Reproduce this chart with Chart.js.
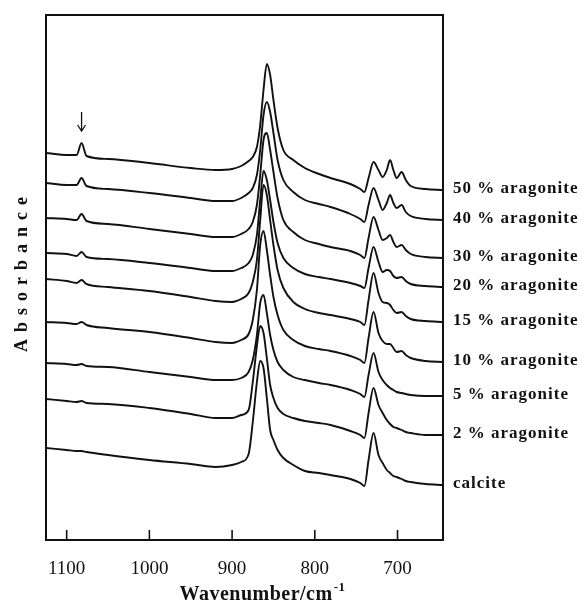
<!DOCTYPE html>
<html>
<head>
  <title>IR spectra calcite / aragonite</title>
  <meta charset="UTF-8">
  <script src="https://cdn.jsdelivr.net/npm/chart.js"></script>
  <style>
    body { margin: 0; background: #fff; }
    #wrap { width: 583px; height: 604px; position: relative; }
  </style>
</head>
<body>
  <div id="wrap"><canvas id="spectra"></canvas></div>

  <script>
    // wavenumbers (cm-1) shared by all spectra
    const wavenumbers = [1125, 1100, 1088, 1082, 1076, 1050, 1000, 950, 920,
      900, 889, 880, 875, 870, 866, 862, 858, 854, 850,
      845, 838, 826, 812, 795, 781, 757, 745, 740, 735,
      729, 723, 718, 713, 709, 705, 701, 695, 690, 684,
      666, 645];

    // absorbance (arbitrary units, stacked)
    const arag50 = [387, 385, 385, 397, 384, 381, 377, 372, 370,
      371, 374, 379, 383, 393, 415, 450, 476, 465, 440,
      412, 390, 380, 372, 366, 362, 356, 351, 348, 362,
      378, 370, 363, 370, 380, 370, 362, 368, 360, 354,
      351, 350];
    const arag40 = [357, 355, 355, 362, 354, 351, 347, 342, 339,
      339, 342, 347, 352, 365, 390, 425, 438, 428, 407,
      380, 360, 348, 340, 336, 333, 326, 321, 318, 335,
      352, 340, 330, 337, 345, 337, 332, 335, 328, 324,
      321, 320];
    const arag30 = [322, 321, 320, 326, 319, 316, 311, 306, 303,
      303, 306, 311, 318, 335, 365, 400, 407, 390, 368,
      342, 320, 308, 300, 296, 293, 289, 285, 282, 302,
      323, 310, 300, 302, 305, 298, 293, 295, 290, 286,
      283, 282];
    const arag20 = [287, 286, 284, 288, 283, 281, 277, 272, 269,
      269, 272, 277, 285, 305, 340, 369, 360, 340, 318,
      297, 282, 272, 266, 263, 261, 257, 254, 252, 272,
      293, 278, 268, 270, 269, 264, 262, 263, 259, 256,
      254, 253];
    const arag15 = [261, 259, 257, 260, 256, 253, 249, 243, 239,
      238, 241, 247, 258, 280, 320, 355, 345, 320, 295,
      270, 252, 238, 231, 227, 225, 221, 218, 215, 240,
      267, 247, 238, 237, 235, 230, 227, 228, 224, 221,
      219, 218];
    const arag10 = [218, 217, 216, 218, 215, 212, 208, 202, 198,
      197, 200, 206, 220, 250, 295, 309, 290, 265, 243,
      225, 210, 200, 194, 191, 189, 184, 180, 177, 202,
      228, 207, 199, 196, 196, 192, 188, 189, 185, 182,
      179, 178];
    const arag5 = [177, 176, 175, 176, 174, 173, 168, 163, 160,
      160, 162, 168, 180, 205, 237, 245, 227, 205, 190,
      178, 170, 163, 160, 157, 155, 150, 146, 143, 165,
      187, 168, 160, 155, 152, 150, 148, 147, 146, 145,
      144, 144];
    const arag2 = [141, 139, 138, 139, 137, 136, 132, 126, 122,
      122, 125, 130, 158, 194, 214, 207, 182, 155, 142,
      132, 126, 122, 119, 117, 115, 109, 105, 102, 127,
      152, 135, 127, 120, 116, 113, 112, 110, 108, 107,
      105, 105];
    const calcite = [92, 90, 89, 89, 88, 85, 80, 76, 73,
      75, 78, 86, 118, 158, 179, 172, 142, 110, 100,
      90, 82, 75, 69, 67, 65, 61, 57, 54, 80,
      107, 85, 77, 70, 67, 64, 63, 61, 59, 58,
      56, 55];

    const seriesNames = ['50 % aragonite', '40 % aragonite', '30 % aragonite', '20 % aragonite',
      '15 % aragonite', '10 % aragonite', '5 % aragonite', '2 % aragonite', 'calcite'];
    const seriesValues = [arag50, arag40, arag30, arag20, arag15, arag10, arag5, arag2, calcite];
    const xTicks = [1100, 1000, 900, 800, 700];
    const arrowAt = 1082;

    const serif = "'Liberation Serif', 'DejaVu Serif', serif";

    const datasets = seriesValues.map((vals, i) => ({
      label: seriesNames[i],
      data: wavenumbers.map((w, j) => ({ x: w, y: vals[j] })),
      borderColor: '#111',
      borderWidth: 1.9,
      pointRadius: 0,
      fill: false,
      cubicInterpolationMode: 'monotone'
    }));

    // frame, inner ticks, right-hand labels, arrow and axis titles
    const decorations = {
      id: 'decorations',
      afterDraw(chart) {
        const ctx = chart.ctx;
        const area = chart.chartArea;
        const xs = chart.scales.x, ys = chart.scales.y;
        ctx.save();
        ctx.strokeStyle = '#111';
        ctx.lineWidth = 2;
        ctx.strokeRect(area.left, area.top, area.right - area.left, area.bottom - area.top);

        // inward ticks on the bottom axis
        ctx.lineWidth = 1.6;
        xTicks.forEach(t => {
          const px = xs.getPixelForValue(t);
          ctx.beginPath();
          ctx.moveTo(px, area.bottom);
          ctx.lineTo(px, area.bottom - 10);
          ctx.stroke();
        });

        // labels at the right end of every spectrum
        ctx.fillStyle = '#111';
        ctx.font = 'bold 17px ' + serif;
        ctx.letterSpacing = '1px';
        ctx.textAlign = 'left';
        ctx.textBaseline = 'middle';
        chart.data.datasets.forEach(ds => {
          const last = ds.data[ds.data.length - 1];
          ctx.fillText(ds.label, area.right + 10, ys.getPixelForValue(last.y) - 1);
        });

        // arrow over the 1082 band
        const ai = wavenumbers.indexOf(arrowAt);
        const ax = xs.getPixelForValue(arrowAt);
        const ay = ys.getPixelForValue(arag50[ai]) - 12;
        ctx.lineWidth = 1.3;
        ctx.beginPath();
        ctx.moveTo(ax, ay - 19);
        ctx.lineTo(ax, ay);
        ctx.moveTo(ax - 4, ay - 6);
        ctx.lineTo(ax, ay);
        ctx.lineTo(ax + 4, ay - 6);
        ctx.stroke();

        // x axis title with superscript
        ctx.letterSpacing = '0.5px';
        ctx.textBaseline = 'alphabetic';
        const main = 'Wavenumber/cm';
        ctx.font = 'bold 13px ' + serif;
        const supW = ctx.measureText('-1').width;
        ctx.font = 'bold 20px ' + serif;
        const mainW = ctx.measureText(main).width;
        const tx = 262 - (mainW + supW) / 2;
        ctx.fillText(main, tx, 600);
        ctx.font = 'bold 13px ' + serif;
        ctx.fillText('-1', tx + mainW + 1, 591);

        // y axis title
        ctx.translate(22, 271);
        ctx.rotate(-Math.PI / 2);
        ctx.font = 'bold 18px ' + serif;
        ctx.letterSpacing = '7px';
        ctx.textAlign = 'center';
        ctx.textBaseline = 'middle';
        ctx.fillText('Absorbance', 0, 0);
        ctx.restore();
      }
    };

    new Chart(document.getElementById('spectra'), {
      type: 'line',
      data: { datasets: datasets },
      options: {
        responsive: true,
        maintainAspectRatio: false,
        animation: false,
        layout: { padding: { left: 0, right: 140, top: 15, bottom: 0 } },
        plugins: { legend: { display: false }, tooltip: { enabled: false } },
        scales: {
          x: {
            type: 'linear',
            reverse: true,
            min: 645,
            max: 1125,
            grid: { display: false },
            border: { display: false },
            ticks: {
              stepSize: 100,
              includeBounds: false,
              padding: 10,
              color: '#111',
              font: { family: serif, size: 19 },
              callback: v => String(v)
            },
            afterFit(scale) { scale.height = 64; }
          },
          y: {
            min: 0,
            max: 525,
            grid: { display: false },
            border: { display: false },
            ticks: { display: false },
            afterFit(scale) { scale.width = 46; }
          }
        }
      },
      plugins: [decorations]
    });
  </script>
</body>
</html>
